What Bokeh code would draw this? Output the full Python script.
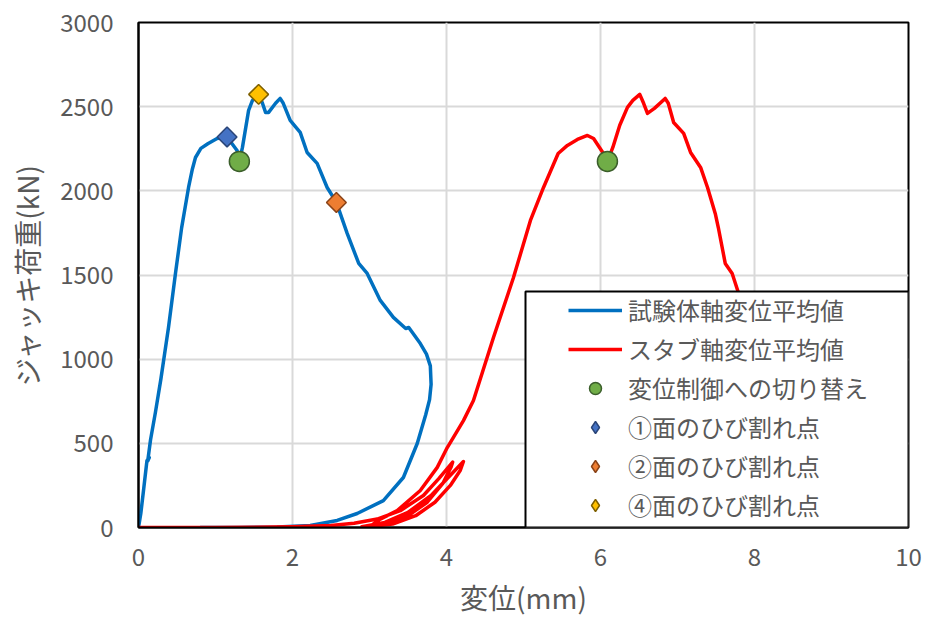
import math
from bokeh.plotting import figure
from bokeh.models import (Range1d, FixedTicker, Legend, LegendItem, BoxAnnotation)
from bokeh.embed import file_html
from bokeh.resources import INLINE

# ---- data ----
# 試験体軸変位平均値 (specimen axial displacement average)
spec_x = [0, 0.03, 0.065, 0.11, 0.14, 0.12, 0.156, 0.22, 0.29, 0.39, 0.48, 0.56,
          0.65, 0.70, 0.74, 0.81, 0.90, 1.02, 1.15, 1.28, 1.31, 1.35, 1.43, 1.48, 1.56,
          1.61, 1.65, 1.69, 1.78, 1.84, 1.88, 1.97, 2.04, 2.10, 2.19, 2.32, 2.45, 2.57,
          2.71, 2.86, 2.97, 3.14, 3.31, 3.47, 3.51, 3.66, 3.74, 3.79, 3.80, 3.78, 3.73,
          3.62, 3.44, 3.18, 2.84, 2.58, 2.23, 1.80, 1.30, 0.80]
spec_y = [0, 83, 220, 398, 415, 395, 520, 685, 880, 1190, 1509, 1780,
          2020, 2130, 2198, 2252, 2280, 2311, 2320, 2240, 2175, 2258, 2478, 2537, 2573,
          2520, 2466, 2466, 2520, 2549, 2520, 2418, 2380, 2347, 2228, 2163, 2020, 1931,
          1747, 1569, 1509, 1349, 1248, 1182, 1188, 1093, 1030, 960, 850, 760, 670,
          499, 297, 160, 83, 42, 12, 3, 0, 0]

# スタブ軸変位平均値 (stub axial displacement average)
stub_x = [0, 1.0, 1.5, 2.0, 2.5, 2.8, 3.1, 3.4, 3.7, 3.9, 4.08,
          4.06, 3.95, 3.75, 3.5, 3.2, 2.9,
          3.2, 3.5, 3.8, 4.05, 4.22,
          4.18, 4.05, 3.85, 3.6, 3.3, 3.0,
          3.14, 3.36, 3.66, 3.88, 4.01, 4.09, 4.22, 4.35, 4.61, 4.87, 5.09, 5.26,
          5.45, 5.57, 5.70, 5.83, 5.91, 6.03, 6.09, 6.16, 6.25, 6.35, 6.42, 6.51,
          6.56, 6.61, 6.70, 6.84, 6.88, 6.95, 7.08, 7.17, 7.30, 7.39, 7.49, 7.53,
          7.62, 7.71, 7.79, 7.85, 7.90, 7.92, 7.90, 7.80, 7.60, 7.30, 6.90, 6.40,
          5.90, 5.50]
stub_y = [0, 0, 2, 5, 12, 25, 50, 100, 190, 290, 388,
          360, 260, 150, 70, 20, 5,
          30, 90, 190, 310, 392,
          340, 250, 150, 70, 20, 5,
          50, 100, 220, 357, 475, 535, 635, 754, 1129, 1485, 1824, 2020,
          2222, 2270, 2305, 2329, 2311, 2228, 2175, 2258, 2390, 2496, 2537, 2573,
          2520, 2460, 2490, 2549, 2520, 2406, 2341, 2228, 2139, 2020, 1866, 1782,
          1569, 1509, 1396, 1250, 1100, 1000, 820, 620, 420, 240, 110, 35,
          5, -5]

# 変位制御への切り替え (switch to displacement control)
switch_x = [1.31, 6.09]
switch_y = [2175, 2175]
# ひび割れ点 (crack points)
crack1_x, crack1_y = [1.15], [2320]
crack2_x, crack2_y = [2.57], [1931]
crack4_x, crack4_y = [1.56], [2573]

x_ticks = [0, 2, 4, 6, 8, 10]
y_ticks = [0, 500, 1000, 1500, 2000, 2500, 3000]

labels = ["試験体軸変位平均値", "スタブ軸変位平均値", "変位制御への切り替え",
          "①面のひび割れ点", "②面のひび割れ点", "④面のひび割れ点"]
x_title = "変位(mm)"
y_title = "ジャッキ荷重(kN)"

# ---- styling ----
FONT = "Noto Sans CJK JP"
TXT = "#595959"
GRID = "#D9D9D9"

p = figure(width=925, height=622, output_backend="svg", toolbar_location=None,
           x_range=Range1d(0, 10), y_range=Range1d(0, 3000),
           min_border_left=138, min_border_right=17, min_border_top=22,
           min_border_bottom=95)
p.background_fill_color = "white"
p.border_fill_color = "white"
p.outline_line_color = "black"
p.outline_line_width = 2

for ax, ticks in ((p.xaxis[0], x_ticks), (p.yaxis[0], y_ticks)):
    ax.ticker = FixedTicker(ticks=ticks)
    ax.minor_tick_line_color = None
    ax.major_tick_in = 0
    ax.major_tick_out = 0
    ax.axis_line_color = "black"
    ax.axis_line_width = 2
    ax.major_label_text_font = FONT
    ax.major_label_text_font_size = "24px"
    ax.major_label_text_color = TXT
    ax.axis_label_text_font = FONT
    ax.axis_label_text_font_size = "28px"
    ax.axis_label_text_font_style = "normal"
    ax.axis_label_text_color = TXT

p.xaxis.axis_label = x_title
p.yaxis.axis_label = y_title
p.xaxis.major_label_standoff = 20
p.yaxis.major_label_standoff = 25
p.xaxis.axis_label_standoff = 8
p.yaxis.axis_label_standoff = 10

p.xgrid.ticker = FixedTicker(ticks=x_ticks)
p.ygrid.ticker = FixedTicker(ticks=y_ticks)
p.grid.grid_line_color = GRID
p.grid.grid_line_width = 2

BLUE_FILL, BLUE_LINE = "#4472C4", "#2A4578"
ORANGE_FILL, ORANGE_LINE = "#ED7D31", "#8A4318"
YELLOW_FILL, YELLOW_LINE = "#FFC000", "#7F6000"

r_spec = p.line(spec_x, spec_y, line_color="#0070C0", line_width=3.5, line_join="round")
r_stub = p.line(stub_x, stub_y, line_color="#FF0000", line_width=3.5, line_join="round")
r_sw = p.scatter(switch_x, switch_y, marker="circle", size=20, fill_color="#70AD47",
                 line_color="#3B5E2B", line_width=1.5)

# legend swatches: the legend ignores marker angle, so diamond-shaped proxies
# (drawn underneath the rotated squares, fully covered by them) feed the legend
k1 = p.scatter(crack1_x, crack1_y, marker="diamond", size=12,
               fill_color=BLUE_FILL, line_color=BLUE_LINE, line_width=1.5)
k2 = p.scatter(crack2_x, crack2_y, marker="diamond", size=12,
               fill_color=ORANGE_FILL, line_color=ORANGE_LINE, line_width=1.5)
k4 = p.scatter(crack4_x, crack4_y, marker="diamond", size=12,
               fill_color=YELLOW_FILL, line_color=YELLOW_LINE, line_width=1.5)

r_c1 = p.scatter(crack1_x, crack1_y, marker="square", angle=math.pi / 4, size=14,
                 fill_color=BLUE_FILL, line_color=BLUE_LINE, line_width=1.5)
r_c2 = p.scatter(crack2_x, crack2_y, marker="square", angle=math.pi / 4, size=14,
                 fill_color=ORANGE_FILL, line_color=ORANGE_LINE, line_width=1.5)
r_c4 = p.scatter(crack4_x, crack4_y, marker="square", angle=math.pi / 4, size=14,
                 fill_color=YELLOW_FILL, line_color=YELLOW_LINE, line_width=1.5)

# legend frame (white box with black border, lower right of the plot)
box = BoxAnnotation(left=5.026, right=10, bottom=0, top=1402,
                    fill_color="white", fill_alpha=1.0,
                    line_color="black", line_width=2, line_alpha=1.0)
p.add_layout(box)

items = [LegendItem(label=lab, renderers=[r]) for lab, r in
         zip(labels, [r_spec, r_stub, r_sw, k1, k2, k4])]
legend = Legend(items=items, location=(430, 5), orientation="vertical",
                padding=0, margin=0, spacing=4,
                glyph_width=54, glyph_height=30, label_height=30,
                label_standoff=6,
                label_text_font=FONT, label_text_font_size="24px",
                label_text_color=TXT,
                border_line_alpha=0, background_fill_alpha=0)
p.add_layout(legend)

open("out.html", "w").write(file_html(p, INLINE))
